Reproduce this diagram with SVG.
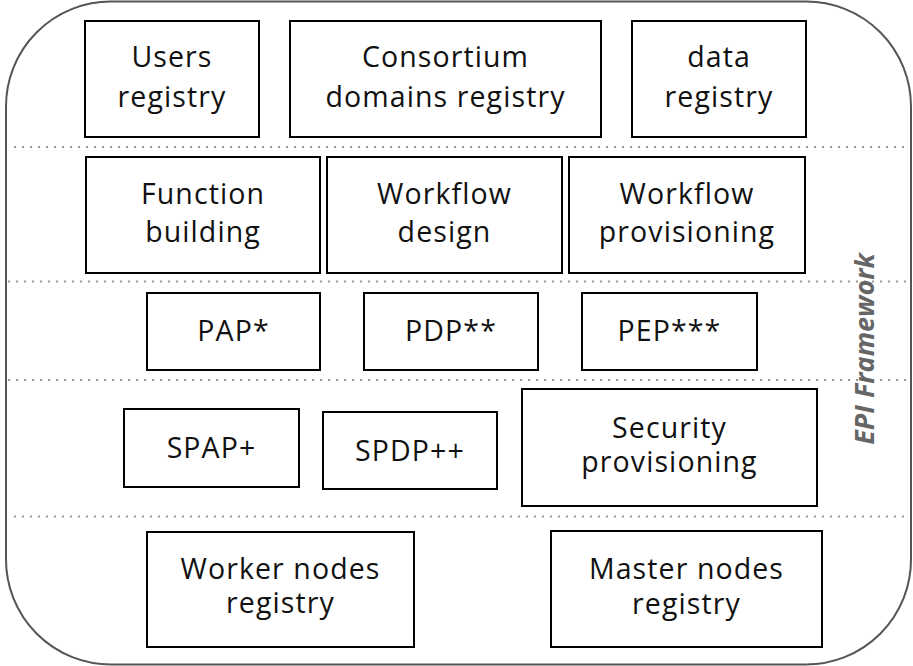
<svg xmlns="http://www.w3.org/2000/svg" width="913" height="666" viewBox="0 0 913 666">
<style>
.frame{fill:#fff;stroke:#555;stroke-width:2}
.sep{stroke:#999;stroke-width:2;stroke-dasharray:2 6;fill:none}
.box{fill:#fff;stroke:#000;stroke-width:2}
.t{font-family:"Open Sans","Liberation Sans",sans-serif;font-size:28.5px;letter-spacing:1.1px;fill:#111;text-anchor:middle}
.lbl{font-family:"Open Sans","Liberation Sans",sans-serif;font-size:27px;font-weight:bold;font-style:italic;fill:#666;text-anchor:middle}
</style>
<rect class="frame" x="6" y="1.5" width="905" height="663" rx="105" ry="105"/>
<g id="separators">
<line class="sep" x1="14" y1="147" x2="910" y2="147"/>
<line class="sep" x1="8" y1="281.5" x2="910" y2="281.5"/>
<line class="sep" x1="8" y1="380" x2="910" y2="380"/>
<line class="sep" x1="14" y1="516.5" x2="910" y2="516.5"/>
</g>
<g id="users-registry"><rect class="box" x="85" y="21" width="174" height="116"/><text class="t" x="172" y="67">Users</text><text class="t" x="172" y="107">registry</text></g>
<g id="consortium-domains-registry"><rect class="box" x="290" y="21" width="311" height="116"/><text class="t" x="445.5" y="67">Consortium</text><text class="t" x="445.5" y="107">domains registry</text></g>
<g id="data-registry"><rect class="box" x="632" y="21" width="174" height="116"/><text class="t" x="719" y="67">data</text><text class="t" x="719" y="107">registry</text></g>
<g id="function-building"><rect class="box" x="86" y="157" width="234" height="116"/><text class="t" x="203" y="204">Function</text><text class="t" x="203" y="241.5">building</text></g>
<g id="workflow-design"><rect class="box" x="327" y="157" width="235" height="116"/><text class="t" x="444.5" y="204">Workflow</text><text class="t" x="444.5" y="241.5">design</text></g>
<g id="workflow-provisioning"><rect class="box" x="569" y="157" width="236" height="116"/><text class="t" x="687" y="204">Workflow</text><text class="t" x="687" y="241.5">provisioning</text></g>
<g id="pap"><rect class="box" x="147" y="293" width="173" height="77"/><text class="t" x="233.5" y="340.5">PAP*</text></g>
<g id="pdp"><rect class="box" x="364" y="293" width="174" height="77"/><text class="t" x="451" y="340.5">PDP**</text></g>
<g id="pep"><rect class="box" x="582" y="293" width="175" height="77"/><text class="t" x="669.5" y="340.5">PEP***</text></g>
<g id="spap"><rect class="box" x="124" y="409" width="175" height="78"/><text class="t" x="211.5" y="457.5">SPAP+</text></g>
<g id="spdp"><rect class="box" x="323" y="412" width="174" height="77"/><text class="t" x="410" y="461">SPDP++</text></g>
<g id="security-provisioning"><rect class="box" x="522" y="389" width="295" height="117"/><text class="t" x="669.5" y="437.5">Security</text><text class="t" x="669.5" y="472">provisioning</text></g>
<g id="worker-nodes-registry"><rect class="box" x="147" y="532" width="267" height="115"/><text class="t" x="280.5" y="578.5">Worker nodes</text><text class="t" x="280.5" y="613">registry</text></g>
<g id="master-nodes-registry"><rect class="box" x="551" y="531" width="271" height="116"/><text class="t" x="686.5" y="579">Master nodes</text><text class="t" x="686.5" y="613.5">registry</text></g>
<g id="connectors"/>
<text class="lbl" transform="translate(874,349) rotate(-90)">EPI Framework</text>
</svg>
